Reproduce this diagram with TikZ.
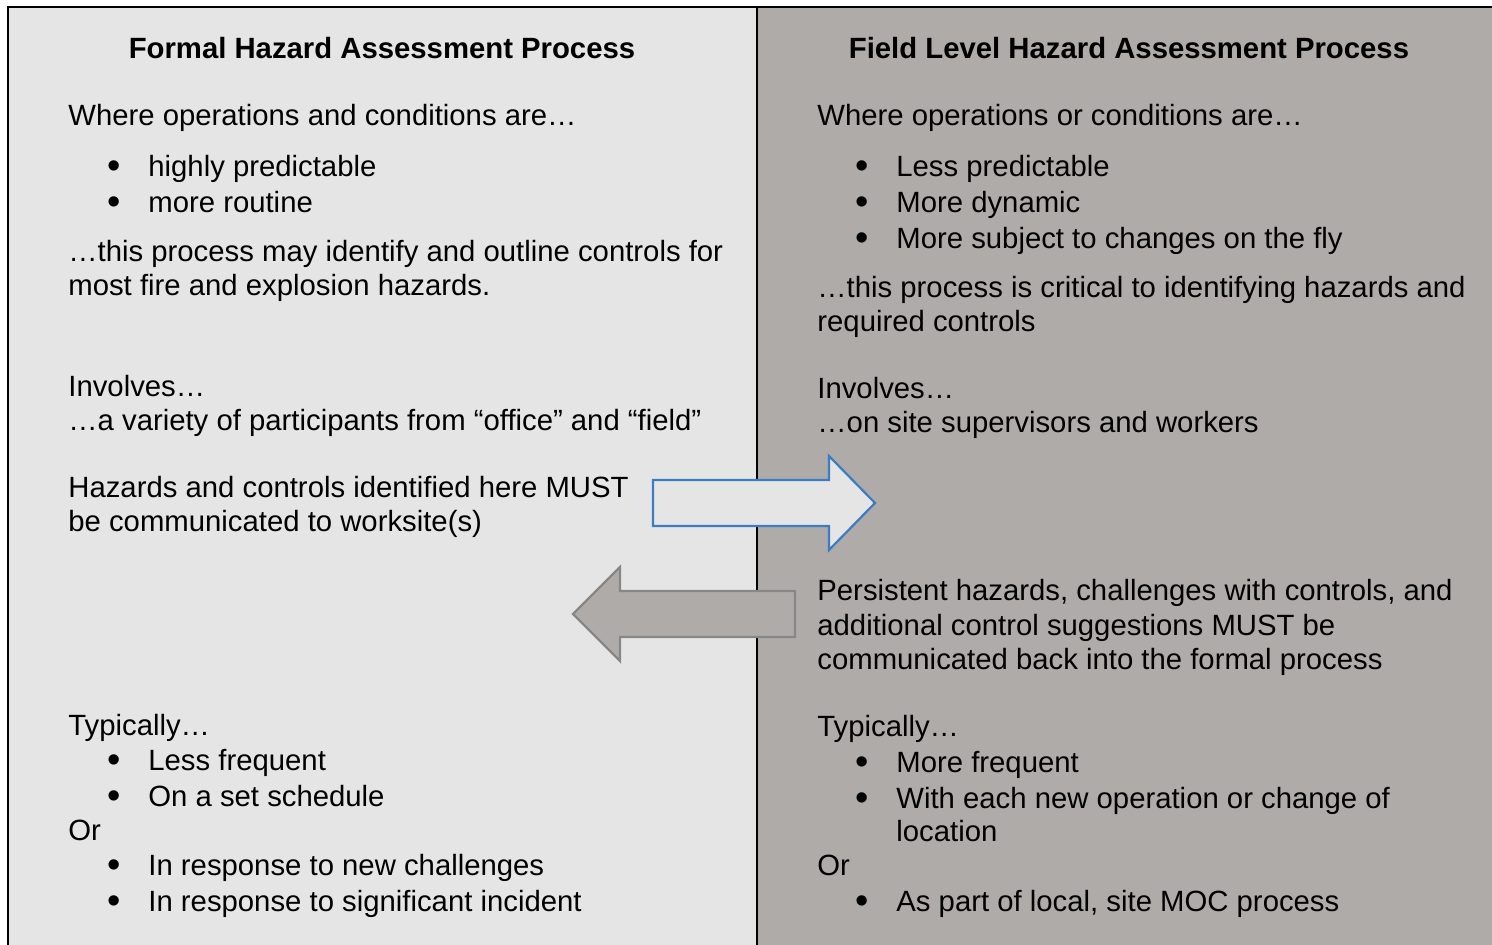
\documentclass[tikz,border=0pt]{standalone}
\usepackage{fontspec}
\setmainfont{Liberation Sans}
\definecolor{leftbg}{HTML}{E5E5E5}
\definecolor{rightbg}{HTML}{AFABA9}
\definecolor{arrowblue}{HTML}{3A7DC0}
\definecolor{arrowgrayline}{HTML}{878787}
\tikzset{
  txt/.style={anchor=base west, inner sep=0pt, font=\fontsize{14.65}{17}\selectfont},
  ttl/.style={anchor=base, inner sep=0pt, font=\fontsize{14.65}{17}\selectfont\bfseries},
  bul/.style={anchor=base, inner sep=0pt, font=\fontsize{19}{20}\selectfont},
}
\newcommand{\bl}{\textbullet}
\begin{document}
\begin{tikzpicture}[x=0.5pt,y=-0.5pt]
\useasboundingbox (0,0) rectangle (1492,945);
\fill[white] (0,0) rectangle (1492,945);
\fill[leftbg] (8,7) rectangle (757,945);
\fill[rightbg] (757,7) rectangle (1492,945);
\draw[line width=1pt] (7,7) -- (1492,7);
\draw[line width=1.2pt] (8,7) -- (8,945);
\draw[line width=1.2pt] (757,7) -- (757,945);

% arrows
\draw[arrowblue, line width=1.1pt, fill=leftbg, line join=miter]
  (653,480) -- (829,480) -- (829,456) -- (875,503) -- (829,550) -- (829,526) -- (653,526) -- cycle;
\draw[arrowgrayline, line width=1.1pt, fill=rightbg, line join=miter]
  (795,591) -- (620,591) -- (620,567) -- (573,614) -- (620,661) -- (620,637) -- (795,637) -- cycle;

% left column
\def\yo{10}
\def\by{12}
\node[ttl] (lt) at (382,49+\yo) {Formal Hazard Assessment Process};
\node[txt] (l1) at (68,116+\yo) {Where operations and conditions are…};
\node[bul] (lb1) at (114,167+\by) {\bl};
\node[txt] (l2) at (148,167+\yo) {highly predictable};
\node[bul] (lb2) at (114,203+\by) {\bl};
\node[txt] (l3) at (148,203+\yo) {more routine};
\node[txt] (l4) at (68,252+\yo) {…this process may identify and outline controls for};
\node[txt] (l5) at (68,286+\yo) {most fire and explosion hazards.};
\node[txt] (l6) at (68,387+\yo) {Involves…};
\node[txt] (l7) at (68,421+\yo) {…a variety of participants from “office” and “field”};
\node[txt] (l8) at (68,488+\yo) {Hazards and controls identified here MUST};
\node[txt] (l9) at (68,522+\yo) {be communicated to worksite(s)};
\node[txt] (l10) at (68,725+\yo) {Typically…};
\node[bul] (lb3) at (114,760+\by) {\bl};
\node[txt] (l11) at (148,760+\yo) {Less frequent};
\node[bul] (lb4) at (114,796+\by) {\bl};
\node[txt] (l12) at (148,796+\yo) {On a set schedule};
\node[txt] (l13) at (68,830+\yo) {Or};
\node[bul] (lb5) at (114,865+\by) {\bl};
\node[txt] (l14) at (148,865+\yo) {In response to new challenges};
\node[bul] (lb6) at (114,901+\by) {\bl};
\node[txt] (l15) at (148,901+\yo) {In response to significant incident};

% right column
\node[ttl] (rt) at (1129,49+\yo) {Field Level Hazard Assessment Process};
\node[txt] (r1) at (817,116+\yo) {Where operations or conditions are…};
\node[bul] (rb1) at (862,167+\by) {\bl};
\node[txt] (r2) at (896,167+\yo) {Less predictable};
\node[bul] (rb2) at (862,203+\by) {\bl};
\node[txt] (r3) at (896,203+\yo) {More dynamic};
\node[bul] (rb3) at (862,239+\by) {\bl};
\node[txt] (r4) at (896,239+\yo) {More subject to changes on the fly};
\node[txt] (r5) at (817,288+\yo) {…this process is critical to identifying hazards and};
\node[txt] (r6) at (817,322+\yo) {required controls};
\node[txt] (r7) at (817,389+\yo) {Involves…};
\node[txt] (r8) at (817,423+\yo) {…on site supervisors and workers};
\node[txt] (r9) at (817,591+\yo) {Persistent hazards, challenges with controls, and};
\node[txt] (r10) at (817,625+\yo) {additional control suggestions MUST be};
\node[txt] (r11) at (817,659+\yo) {communicated back into the formal process};
\node[txt] (r12) at (817,726+\yo) {Typically…};
\node[bul] (rb4) at (862,762+\by) {\bl};
\node[txt] (r13) at (896,762+\yo) {More frequent};
\node[bul] (rb5) at (862,798+\by) {\bl};
\node[txt] (r14) at (896,798+\yo) {With each new operation or change of};
\node[txt] (r15) at (896,831+\yo) {location};
\node[txt] (r16) at (817,865+\yo) {Or};
\node[bul] (rb6) at (862,901+\by) {\bl};
\node[txt] (r17) at (896,901+\yo) {As part of local, site MOC process};
\end{tikzpicture}
\end{document}
